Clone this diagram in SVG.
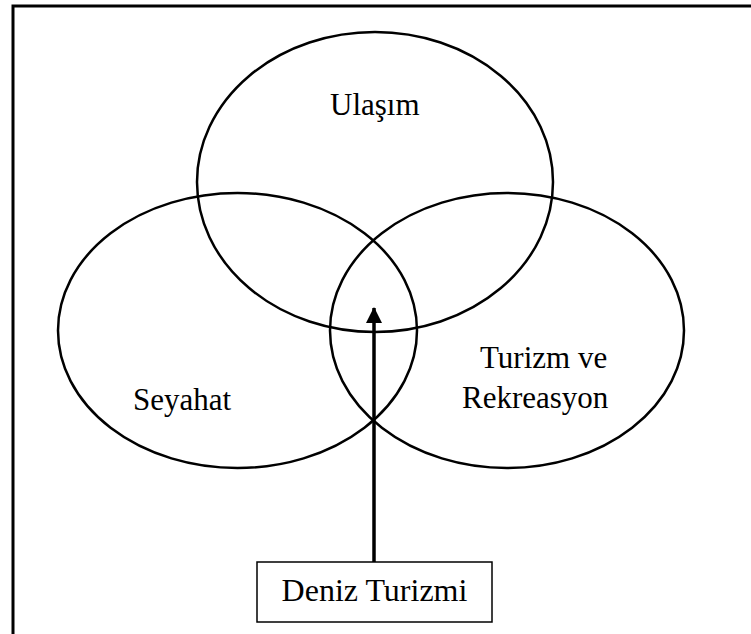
<svg xmlns="http://www.w3.org/2000/svg" width="751" height="634" viewBox="0 0 751 634">
<defs>
<style>
.frame{fill:none;stroke:#000;stroke-width:3}
.set{fill:none;stroke:#000;stroke-width:2.5}
.lbl{font-family:"Liberation Serif","Times New Roman",serif;font-size:31px;fill:#000}
.big{font-size:32px}
.box{fill:#fff;stroke:#000;stroke-width:1.5}
.arrow{stroke:#000;stroke-width:3.5;fill:none}
</style>
<marker id="ah" markerUnits="userSpaceOnUse" markerWidth="16" markerHeight="16" viewBox="0 0 16 16" refX="15" refY="8" orient="auto">
<path d="M0,0 L16,8 L0,16 Z" fill="#000"/>
</marker>
</defs>
<rect width="751" height="634" fill="#fff"/>
<rect class="frame" x="13" y="6" width="760" height="650"/>
<g id="ulasim">
<ellipse class="set" cx="375" cy="182" rx="178" ry="150"/>
<text class="lbl" x="330" y="115">Ulaşım</text>
</g>
<g id="seyahat">
<ellipse class="set" cx="237.5" cy="330.5" rx="179.5" ry="137.5"/>
<text class="lbl" x="133" y="410">Seyahat</text>
</g>
<g id="turizm">
<ellipse class="set" cx="507" cy="330.5" rx="177" ry="137.5"/>
<text class="lbl" x="480" y="368">Turizm ve</text>
<text class="lbl" x="462" y="408">Rekreasyon</text>
</g>
<g id="connectors">
<line class="arrow" x1="374" y1="562" x2="374" y2="308" marker-end="url(#ah)"/>
</g>
<g id="deniz">
<rect class="box" x="257" y="562" width="235" height="60"/>
<text class="lbl big" x="374.5" y="601" text-anchor="middle">Deniz Turizmi</text>
</g>
</svg>
